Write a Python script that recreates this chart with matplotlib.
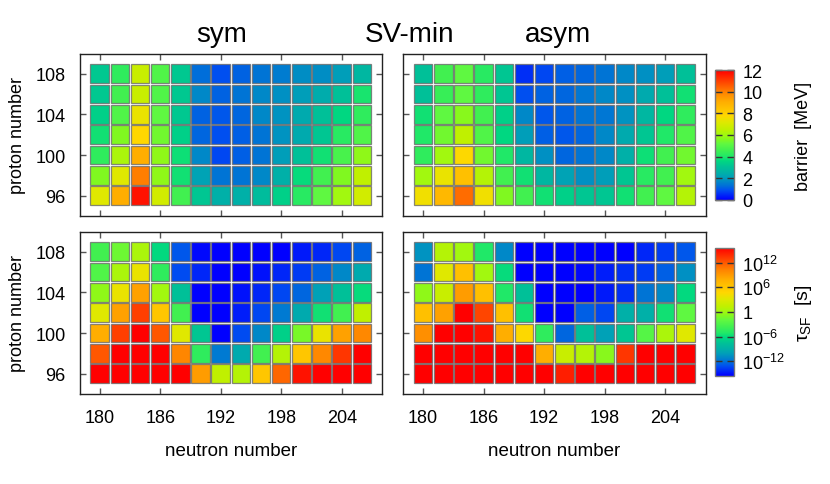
import matplotlib
matplotlib.use('Agg')
import matplotlib.pyplot as plt
import numpy as np
from matplotlib.colors import LinearSegmentedColormap, Normalize
from matplotlib.cm import ScalarMappable

plt.rcParams['font.family'] = ['Liberation Sans', 'DejaVu Sans']
plt.rcParams['mathtext.fontset'] = 'custom'
plt.rcParams['mathtext.rm'] = 'Liberation Sans'
plt.rcParams['mathtext.it'] = 'Liberation Sans'

# grid of nuclei
neutron = [180, 182, 184, 186, 188, 190, 192, 194, 196, 198, 200, 202, 204, 206]
proton = [108, 106, 104, 102, 100, 98, 96]   # rows, top to bottom

# fission barrier [MeV], symmetric / asymmetric path
barrier_sym = [
    [3.2, 4.3, 6.7, 4.9, 3.2, 1.3, 0.9, 1.15, 1.4, 1.5, 1.8, 1.8, 2.1, 2.75],
    [3.2, 4.6, 6.7, 4.9, 3.2, 1.7, 1.15, 1.4, 1.7, 1.85, 2.1, 2.4, 3.0, 3.9],
    [3.4, 4.9, 7.4, 5.2, 3.2, 1.15, 1.0, 1.2, 1.7, 1.9, 2.35, 3.0, 3.6, 4.3],
    [3.8, 5.6, 7.8, 5.4, 3.4, 1.2, 0.9, 1.1, 1.4, 1.9, 2.35, 3.15, 4.15, 4.9],
    [4.3, 6.15, 9.0, 5.8, 3.75, 1.7, 0.8, 1.1, 1.4, 2.1, 3.0, 3.8, 4.75, 5.8],
    [5.6, 7.2, 10.0, 5.8, 3.8, 2.2, 1.4, 1.4, 1.7, 2.5, 3.7, 4.6, 5.6, 6.5],
    [7.2, 9.0, 11.7, 6.85, 4.6, 3.15, 2.5, 2.5, 2.9, 3.4, 4.15, 5.2, 6.0, 6.85],
]
barrier_asym = [
    [3.0, 4.6, 5.2, 4.15, 3.15, 0.55, 0.8, 1.1, 1.2, 1.4, 1.7, 1.85, 2.1, 3.0],
    [3.0, 4.45, 5.2, 4.3, 3.15, 0.9, 1.15, 1.2, 1.45, 1.7, 1.85, 2.35, 3.0, 3.8],
    [3.8, 5.2, 5.7, 4.6, 3.4, 1.7, 1.0, 1.15, 1.4, 1.45, 1.9, 2.75, 3.6, 4.3],
    [4.0, 5.4, 6.5, 4.9, 3.6, 2.1, 1.1, 1.0, 1.2, 1.7, 2.35, 3.15, 4.0, 4.9],
    [4.3, 6.0, 7.75, 5.4, 4.0, 2.75, 1.85, 1.2, 1.4, 1.7, 2.5, 3.75, 4.6, 5.4],
    [6.0, 7.4, 8.5, 6.3, 4.6, 3.8, 2.75, 2.2, 1.85, 2.1, 3.15, 4.15, 4.6, 6.0],
    [7.5, 8.75, 10.3, 7.5, 5.6, 4.6, 3.8, 3.4, 3.15, 3.15, 3.8, 4.6, 5.2, 6.3],
]

# log10 of spontaneous fission half-life [s]
logtau_sym = [
    [-3.6, -1.6, 0.4, -6.2, -13.0, -15.3, -18, -19, -19, -18, -14.8, -14.4, -13.5, -12.6],
    [-2.9, 0.4, 3.6, -4.4, -13.3, -14.4, -18, -18, -15.1, -14.4, -13.8, -12.6, -11.2, -9.5],
    [-0.5, 3.6, 8.6, 0.0, -7.8, -18, -19, -15.1, -14.4, -13.5, -12.5, -10.1, -7.8, -6.0],
    [3.1, 8.6, 13.0, 6.0, -3.6, -18, -17, -14.7, -13.5, -11.8, -9.5, -5.7, -3.6, 1.3],
    [7.8, 13.0, 17, 12.0, 3.1, -7.4, -18, -13.3, -11.2, -6.8, -1.3, 3.6, 8.6, 9.9],
    [12.0, 18, 20, 17, 10.1, -4.4, -11.8, -9.5, -3.6, 0.8, 6.0, 9.9, 13.3, 17],
    [20, 22, 23, 21, 17, 8.8, 1.3, 0.8, 6.0, 11.4, 14.8, 17, 18, 19],
]
logtau_asym = [
    [-10.7, 0.8, 0.0, -5.2, -11.2, -18, -19, -20, -19, -18, -17, -14.4, -13.8, -13.0],
    [-12.0, 3.1, 6.5, 0.0, -6.0, -18, -19, -18, -15.3, -14.7, -14.2, -13.8, -12.7, -10.8],
    [-0.5, 1.8, 8.8, 6.5, -5.2, -7.8, -18, -19, -18, -14.8, -14.2, -12.0, -11.2, -6.2],
    [6.5, 8.6, 17, 12.7, 6.5, -5.7, -18, -17, -12.7, -13.5, -9.1, -9.1, -5.7, -2.1],
    [9.6, 17, 18, 14.8, 7.8, 4.6, -4.4, -12.5, -7.8, -10.1, -7.4, -2.6, 0.4, 3.1],
    [18, 19, 20, 19, 18, 17, 7.8, 1.8, 0.8, -0.8, 13.3, 17, 18, 17],
    [20, 21, 22, 21, 20, 19, 17, 14.3, 17, 18, 19, 19, 18, 17],
]

barrier_ticks = [0, 2, 4, 6, 8, 10, 12]
tau_ticks = [-12, -6, 0, 6, 12]
tau_ticklabels = [r'$\mathregular{10^{-12}}$', r'$\mathregular{10^{-6}}$', '1',
                  r'$\mathregular{10^{6}}$', r'$\mathregular{10^{12}}$']

# palette similar to the gnuplot one
pal = [(0.0, '#0000FF'), (0.9, '#0050F0'), (1.3, '#0070D8'), (1.7, '#0088C8'),
       (2.1, '#00A0B8'), (2.5, '#00B0A8'), (3.0, '#00C098'), (3.6, '#00D880'),
       (4.0, '#20E868'), (4.6, '#40F050'), (5.2, '#60F840'), (5.6, '#80F820'),
       (6.0, '#A0F810'), (6.5, '#C0F000'), (7.2, '#E0E800'), (7.8, '#FFD700'),
       (9.0, '#FFB000'), (10.0, '#FF8000'), (11.0, '#FF4000'), (12.0, '#FF0000')]
cmap = LinearSegmentedColormap.from_list('gp', [(v / 12.0, c) for v, c in pal])
norm_b = Normalize(0, 12)
norm_t = Normalize(-15.6, 15.6)

fig = plt.figure(figsize=(8.3, 4.85), dpi=100)

L1, L2, W = 0.0958, 0.4855, 0.3645
B_top, B_bot, H = 0.5526, 0.1856, 0.335
ax_tl = fig.add_axes([L1, B_top, W, H])
ax_tr = fig.add_axes([L2, B_top, W, H])
ax_bl = fig.add_axes([L1, B_bot, W, H])
ax_br = fig.add_axes([L2, B_bot, W, H])

panels = [(ax_tl, barrier_sym, norm_b), (ax_tr, barrier_asym, norm_b),
          (ax_bl, logtau_sym, norm_t), (ax_br, logtau_asym, norm_t)]

for ax, data, nrm in panels:
    vals = np.array(data, dtype=float)
    for i, z in enumerate(proton):
        ax.bar(neutron, 1.84, width=1.84, bottom=z - 0.92,
               color=cmap(nrm(vals[i])), edgecolor=(0.42, 0.42, 0.42, 0.8),
               linewidth=0.9)
    ax.set_xlim(178, 208)
    ax.set_ylim(94, 110)
    ax.set_xticks([180, 186, 192, 198, 204])
    ax.set_yticks([96, 100, 104, 108])
    ax.tick_params(direction='in', top=True, right=True, length=4, width=1,
                   color='#555555', labelsize=13)
    ax.tick_params(axis='y', pad=10)
    ax.tick_params(axis='x', pad=11)
    for s in ax.spines.values():
        s.set_color('#222222')
        s.set_linewidth(1.0)

for ax in (ax_tl, ax_tr):
    ax.tick_params(labelbottom=False)
for ax in (ax_tr, ax_br):
    ax.tick_params(labelleft=False)

# colorbars
cax1 = fig.add_axes([0.8614, 0.5856, 0.0229, 0.268])
cax2 = fig.add_axes([0.8614, 0.2227, 0.0229, 0.2639])
cb1 = fig.colorbar(ScalarMappable(norm=norm_b, cmap=cmap), cax=cax1, ticks=barrier_ticks)
cb2 = fig.colorbar(ScalarMappable(norm=norm_t, cmap=cmap), cax=cax2, ticks=tau_ticks)
cb2.set_ticklabels(tau_ticklabels)
for cb in (cb1, cb2):
    cb.outline.set_edgecolor('#777777')
    cb.outline.set_linewidth(1.0)
    cb.ax.minorticks_off()
    cb.ax.tick_params(direction='in', left=True, right=True, labelleft=False,
                      labelright=True, length=5, width=1, color='#333333',
                      labelsize=13, pad=6)

# texts
fig.text(222 / 830, 1 - 35 / 485, 'sym', fontsize=20, ha='center', va='center')
fig.text(410 / 830, 1 - 35 / 485, 'SV-min', fontsize=20, ha='center', va='center')
fig.text(558 / 830, 1 - 35 / 485, 'asym', fontsize=20, ha='center', va='center')

for yc in (136, 313):
    fig.text(17 / 830, 1 - yc / 485, 'proton number', fontsize=13,
             rotation=90, ha='center', va='center')
for xc in (231, 554):
    fig.text(xc / 830, 1 - 452 / 485, 'neutron number', fontsize=13.5,
             ha='center', va='center')

fig.text(803 / 830, 1 - 136 / 485, 'barrier  [MeV]', fontsize=13,
         rotation=90, ha='center', va='center')
fig.text(803 / 830, 1 - 313 / 485, r'$\tau_{\mathregular{SF}}$  [s]', fontsize=14,
         rotation=90, ha='center', va='center')

fig.savefig('out.png', dpi=100)
